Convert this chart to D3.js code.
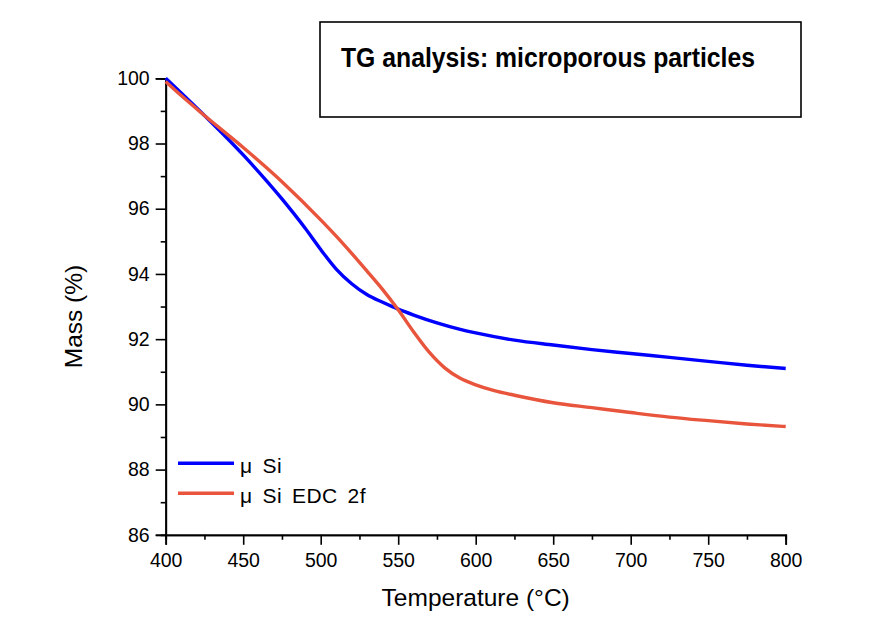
<!DOCTYPE html>
<html>
<head>
<meta charset="utf-8">
<script src="https://cdn.jsdelivr.net/npm/d3@7"></script>
<style>
  html, body { margin: 0; padding: 0; background: #fff; }
  svg { display: block; }
  text { font-family: "Liberation Sans", Arial, sans-serif; fill: #000; }
</style>
</head>
<body>
<svg id="chart" width="894" height="631"></svg>
<script>
// Thermogravimetric curves: mass (%) versus temperature (°C)
const temperatureSi = [400, 410, 425, 450, 475, 490, 500, 510, 520, 530, 540, 550, 560, 575, 590, 600, 625, 650, 675, 700, 725, 750, 775, 800];
const massSi        = [100.0, 99.55, 98.86, 97.65, 96.3, 95.4, 94.75, 94.15, 93.7, 93.36, 93.13, 92.92, 92.74, 92.5, 92.3, 92.19, 91.97, 91.82, 91.68, 91.56, 91.44, 91.32, 91.2, 91.1];

const temperatureEdc = [400, 410, 425, 450, 475, 500, 510, 520, 530, 540, 550, 560, 570, 580, 590, 600, 612, 625, 650, 675, 700, 725, 750, 775, 800];
const massEdc        = [99.9, 99.47, 98.86, 97.88, 96.83, 95.66, 95.16, 94.63, 94.08, 93.52, 92.9, 92.22, 91.6, 91.12, 90.8, 90.6, 90.42, 90.28, 90.05, 89.9, 89.75, 89.61, 89.5, 89.4, 89.32];

const seriesNames  = ["\u03bc Si", "\u03bc Si EDC 2f"];
const seriesColors = ["#0000ff", "#e8553c"];

const xTicks = [400, 450, 500, 550, 600, 650, 700, 750, 800];
const yTicks = [86, 88, 90, 92, 94, 96, 98, 100];
const xLabel = "Temperature (\u00b0C)";
const yLabel = "Mass (%)";
const titleText = "TG analysis: microporous particles";

const svg = d3.select("#chart");

const x = d3.scaleLinear().domain([400, 800]).range([165.7, 785.7]);
const y = d3.scaleLinear().domain([86, 100]).range([534.8, 78.3]);

// Minor ticks halfway between the labelled ones
const xMinor = d3.range(425, 800, 50);
const yMinor = d3.range(87, 100, 2);

const axisG = svg.append("g");

// x axis
axisG.append("g").attr("transform", `translate(0,${y(86)})`)
  .call(d3.axisBottom(x).tickValues(xMinor).tickSize(5).tickFormat(""));
axisG.append("g").attr("transform", `translate(0,${y(86)})`)
  .call(d3.axisBottom(x).tickValues(xTicks).tickSize(10).tickPadding(8).tickFormat(d3.format("d")));

// y axis
axisG.append("g").attr("transform", `translate(${x(400)},0)`)
  .call(d3.axisLeft(y).tickValues(yMinor).tickSize(5).tickFormat(""));
axisG.append("g").attr("transform", `translate(${x(400)},0)`)
  .call(d3.axisLeft(y).tickValues(yTicks).tickSize(10).tickPadding(6).tickFormat(d3.format("d")));

axisG.selectAll(".domain").attr("stroke", "#000").attr("stroke-width", 1.8);
axisG.selectAll(".tick line").attr("stroke", "#000").attr("stroke-width", 1.6);
axisG.selectAll(".tick text")
  .attr("font-family", "'Liberation Sans', Arial, sans-serif")
  .attr("font-size", 19.5)
  .attr("fill", "#000");

// axis titles
svg.append("text")
  .attr("x", (x(400) + x(800)) / 2)
  .attr("y", 606)
  .attr("text-anchor", "middle")
  .attr("font-size", 24.5)
  .text(xLabel);

svg.append("text")
  .attr("transform", `translate(82,${(y(86) + y(100)) / 2 + 10}) rotate(-90)`)
  .attr("text-anchor", "middle")
  .attr("font-size", 24.5)
  .text(yLabel);

// curves
const line = d3.line()
  .x(d => x(d[0]))
  .y(d => y(d[1]))
  .curve(d3.curveMonotoneX);

const seriesData = [
  d3.zip(temperatureSi, massSi),
  d3.zip(temperatureEdc, massEdc)
];

svg.append("g").selectAll("path")
  .data(seriesData)
  .join("path")
  .attr("d", line)
  .attr("fill", "none")
  .attr("stroke", (d, i) => seriesColors[i])
  .attr("stroke-width", 3.4)
  .attr("stroke-linejoin", "round");

// legend
const legend = svg.append("g");
seriesNames.forEach((name, i) => {
  const ly = 463.3 + i * 30;
  legend.append("line")
    .attr("x1", 178).attr("x2", 234)
    .attr("y1", ly).attr("y2", ly)
    .attr("stroke", seriesColors[i])
    .attr("stroke-width", 3.4);
  legend.append("text")
    .attr("x", 240)
    .attr("y", ly + 10)
    .attr("font-size", 21)
    .attr("word-spacing", 3.5)
    .attr("letter-spacing", 0.5)
    .text(name);
});

// title box
svg.append("rect")
  .attr("x", 320).attr("y", 22)
  .attr("width", 481).attr("height", 95)
  .attr("fill", "#fff")
  .attr("stroke", "#000")
  .attr("stroke-width", 1.6);

svg.append("text")
  .attr("x", 341)
  .attr("y", 67)
  .attr("font-family", "Lato, 'Open Sans', sans-serif")
  .attr("font-weight", "bold")
  .attr("font-size", 28)
  .attr("textLength", 414)
  .attr("lengthAdjust", "spacingAndGlyphs")
  .text(titleText);
</script>
</body>
</html>
